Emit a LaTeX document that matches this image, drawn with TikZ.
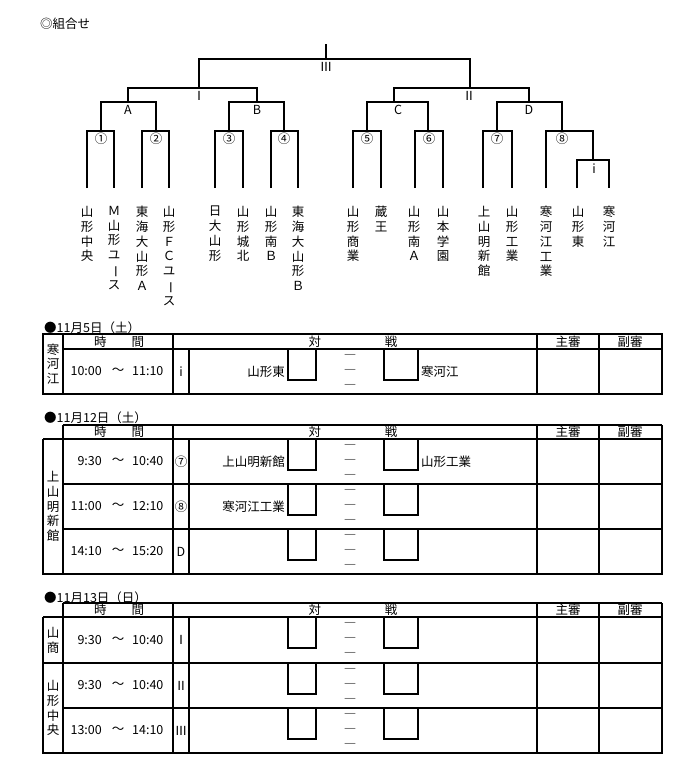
\documentclass[tikz,border=0pt]{standalone}
\usepackage{fontspec}
\setmainfont{Noto Sans CJK JP}
\newcommand{\vbarchar}{\smash{\rotatebox[origin=c]{-90}{ー}}}
\begin{document}
\begin{tikzpicture}[x=1pt,y=-1pt,
  ln/.style={line width=1.5pt},
  tx/.style={inner sep=0pt,font=\fontsize{12.5}{14.8}\selectfont},
  vt/.style={tx,align=center,anchor=north},
  ml/.style={tx,align=center}]
\useasboundingbox (0,0) rectangle (700,758);
% title
\node[tx,anchor=west] (title) at (40,24) {◎組合せ};
% ---------------- bracket ----------------
\coordinate (top) at (326,44);
\coordinate (r3l) at (199,59); \coordinate (r3r) at (470,59);
\coordinate (r1l) at (128,88); \coordinate (r1r) at (257,88);
\coordinate (r2l) at (394,88); \coordinate (r2r) at (529,88);
\draw[ln] (top) -- (326,59);
\draw[ln] (199,88) -- (r3l) -- (r3r) -- (470,88);
\draw[ln] (128,102) -- (r1l) -- (r1r) -- (257,102);
\draw[ln] (394,102) -- (r2l) -- (r2r) -- (529,102);
\draw[ln] (101,131) -- (101,102) -- (156,102) -- (156,131);
\draw[ln] (229,131) -- (229,102) -- (284,102) -- (284,131);
\draw[ln] (367,131) -- (367,102) -- (428,102) -- (428,131);
\draw[ln] (497,131) -- (497,102) -- (562,102) -- (562,131);
% first-round boxes (open at the bottom)
\foreach \a/\b in {87/114,142/169,215/243,271/298,353/381,415/443,483/512}
  \draw[ln] (\a,188) -- (\a,131) -- (\b,131) -- (\b,188);
\draw[ln] (546,188) -- (546,131) -- (593,131) -- (593,160);
\draw[ln] (577,188) -- (577,160) -- (609,160) -- (609,188);
% round labels
\node[tx] (l3) at (326,67) {Ⅲ};
\node[tx] (l1) at (199,96) {Ⅰ};
\node[tx] (l2) at (469,96) {Ⅱ};
\node[tx] (lA) at (128,110) {A};
\node[tx] (lB) at (257,110) {B};
\node[tx] (lC) at (398,110) {C};
\node[tx] (lD) at (529,110) {D};
\node[tx] (c1) at (101,139) {①};
\node[tx] (c2) at (156,139) {②};
\node[tx] (c3) at (229,139) {③};
\node[tx] (c4) at (284,139) {④};
\node[tx] (c5) at (367,139) {⑤};
\node[tx] (c6) at (429,139) {⑥};
\node[tx] (c7) at (497,139) {⑦};
\node[tx] (c8) at (562,139) {⑧};
\node[tx] (ci) at (594,169) {i};
% team names
\node[vt] (t1) at (87,206) {山\\形\\中\\央};
\node[vt] (t2) at (114,206) {Ｍ\\山\\形\\ユ\\\vbarchar\\ス};
\node[vt] (t3) at (142,206) {東\\海\\大\\山\\形\\Ａ};
\node[vt] (t4) at (169,206) {山\\形\\Ｆ\\Ｃ\\ユ\\\vbarchar\\ス};
\node[vt] (t5) at (215,206) {日\\大\\山\\形};
\node[vt] (t6) at (243,206) {山\\形\\城\\北};
\node[vt] (t7) at (271,206) {山\\形\\南\\Ｂ};
\node[vt] (t8) at (298,206) {東\\海\\大\\山\\形\\Ｂ};
\node[vt] (t9) at (353,206) {山\\形\\商\\業};
\node[vt] (t10) at (381,206) {蔵\\王};
\node[vt] (t11) at (414,206) {山\\形\\南\\Ａ};
\node[vt] (t12) at (443,206) {山\\本\\学\\園};
\node[vt] (t13) at (484,206) {上\\山\\明\\新\\館};
\node[vt] (t14) at (512,206) {山\\形\\工\\業};
\node[vt] (t15) at (546,206) {寒\\河\\江\\工\\業};
\node[vt] (t16) at (578,206) {山\\形\\東};
\node[vt] (t17) at (609,206) {寒\\河\\江};
% ---------------- table 1 ----------------
\node[tx,anchor=west] (d1) at (44,328) {●11月5日（土）};
\draw[ln] (43,334) rectangle (662,394);
\draw[ln] (63,349) -- (662,349);
\foreach \x in {63,173,537,599} \draw[ln] (\x,334) -- (\x,394);
\draw[ln] (189,349) -- (189,394);
\node[tx] (h1a) at (119,341.5) {時\hspace{2em}間};
\node[tx] (h1b) at (353,341.5) {対\hspace{5.1em}戦};
\node[tx] (h1c) at (568,341.5) {主審};
\node[tx] (h1d) at (630,341.5) {副審};
\node[ml] (v1) at (53,364) {寒\\河\\江};
% ---------------- table 2 ----------------
\node[tx,anchor=west] (d2) at (44,418) {●11月12日（土）};
\draw[ln] (63,425) -- (662,425);
\draw[ln] (43,439) -- (662,439);
\draw[ln] (43,439) -- (43,574) -- (662,574) -- (662,425);
\foreach \x in {63,173,537,599} \draw[ln] (\x,425) -- (\x,574);
\draw[ln] (189,439) -- (189,574);
\draw[ln] (63,484) -- (662,484);
\draw[ln] (63,529) -- (662,529);
\node[tx] (h2a) at (119,432) {時\hspace{2em}間};
\node[tx] (h2b) at (353,432) {対\hspace{5.1em}戦};
\node[tx] (h2c) at (568,432) {主審};
\node[tx] (h2d) at (630,432) {副審};
\node[ml] (v2) at (53,506.5) {上\\山\\明\\新\\館};
% ---------------- table 3 ----------------
\node[tx,anchor=west] (d3) at (44,598) {●11月13日（日）};
\draw[ln] (63,603) -- (662,603);
\draw[ln] (43,617) -- (662,617);
\draw[ln] (43,617) -- (43,753) -- (662,753) -- (662,603);
\foreach \x in {63,173,537,599} \draw[ln] (\x,603) -- (\x,753);
\draw[ln] (189,617) -- (189,753);
\draw[ln] (43,663) -- (662,663);
\draw[ln] (63,708) -- (662,708);
\node[tx] (h3a) at (119,610) {時\hspace{2em}間};
\node[tx] (h3b) at (353,610) {対\hspace{5.1em}戦};
\node[tx] (h3c) at (568,610) {主審};
\node[tx] (h3d) at (630,610) {副審};
\node[ml] (v3) at (53,640) {山\\商};
\node[ml] (v4) at (53,708) {山\\形\\中\\央};
% ---------------- match rows ----------------
\foreach \r in {349,439,484,529,617,663,708}{
  \draw[ln] (288,\r) rectangle (316,\r+31);
  \draw[ln] (384,\r) rectangle (418,\r+31);
  \node[ml] (dash\r) at (350,\r+23) {―\\―\\―};
}
\foreach \n/\y/\s/\e/\m in {a/371.5/10:00/11:10/i, b/461.5/9:30/10:40/⑦, c/506.5/11:00/12:10/⑧, d/551.5/14:10/15:20/D, e/640/9:30/10:40/Ⅰ, f/685.5/9:30/10:40/Ⅱ, g/730.5/13:00/14:10/Ⅲ}{
  \node[tx,anchor=east] (s\n) at (102,\y) {\s};
  \node[tx] (w\n) at (118,\y) {〜};
  \node[tx,anchor=west] (e\n) at (132,\y) {\e};
  \node[tx] (m\n) at (181,\y) {\m};
}
\node[tx,anchor=east] (la) at (285,371.5) {山形東};
\node[tx,anchor=west] (ra) at (421,371.5) {寒河江};
\node[tx,anchor=east] (lb) at (285,461.5) {上山明新館};
\node[tx,anchor=west] (rb) at (421,461.5) {山形工業};
\node[tx,anchor=east] (lc) at (285,506.5) {寒河江工業};
\end{tikzpicture}
\end{document}
